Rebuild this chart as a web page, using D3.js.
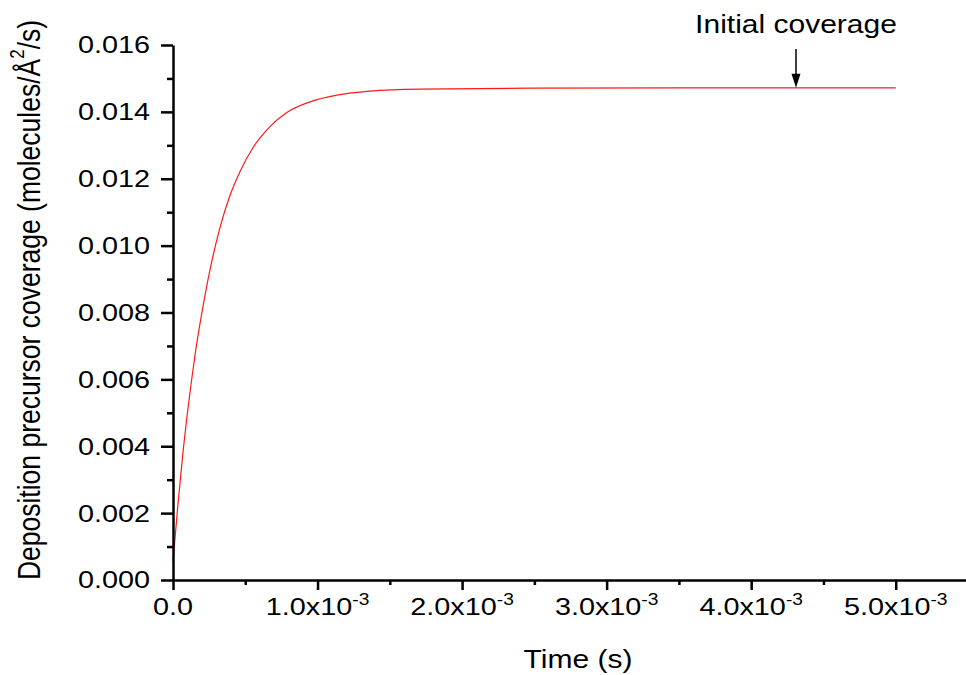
<!DOCTYPE html>
<html>
<head>
<meta charset="utf-8">
<script src="https://cdn.jsdelivr.net/npm/d3@7"></script>
<style>
  html, body { margin: 0; padding: 0; background: #fff; }
  svg { display: block; }
  text { font-family: "Liberation Sans", Arial, sans-serif; fill: #000; }
</style>
</head>
<body>
<svg id="chart" width="966" height="675"></svg>
<script>
// ---- data ----
const timeSeconds = [0, 0.000035, 0.000071, 0.000129, 0.000152, 0.000210, 0.000268, 0.000325, 0.000394, 0.000464,
                     0.000556, 0.000671, 0.000787, 0.000948, 0.001133, 0.001363, 0.001709, 0.0025, 0.0035, 0.0045, 0.0050];
const coverage    = [0.00055, 0.00230, 0.00390, 0.00599, 0.00672, 0.00824, 0.00952, 0.01054, 0.01150, 0.01222,
                     0.01295, 0.01356, 0.01398, 0.01430, 0.01450, 0.01462, 0.01468, 0.01471, 0.01472, 0.01472, 0.01472];

const yTickValues = [0, 0.002, 0.004, 0.006, 0.008, 0.010, 0.012, 0.014, 0.016];
const yTickLabels = ["0.000", "0.002", "0.004", "0.006", "0.008", "0.010", "0.012", "0.014", "0.016"];
const yMinorValues = [0.001, 0.003, 0.005, 0.007, 0.009, 0.011, 0.013, 0.015];

const xTickValues = [0, 0.001, 0.002, 0.003, 0.004, 0.005];
const xTickMantissa = ["0.0", "1.0x10", "2.0x10", "3.0x10", "4.0x10", "5.0x10"];
const xTickExponent = ["", "-3", "-3", "-3", "-3", "-3"];
const xMinorValues = [0.0005, 0.0015, 0.0025, 0.0035, 0.0045];

const xDomain = [0, 0.0055];
const yDomain = [0, 0.016];

const annotationText = "Initial coverage";
const annotationTime = 0.00431;
const xTitle = "Time (s)";

// ---- layout ----
const svg = d3.select("#chart");
const x = d3.scaleLinear().domain(xDomain).range([173, 968]);
const y = d3.scaleLinear().domain(yDomain).range([580, 45]);
const SX = 1.2; // horizontal stretch of the reference's text

// curve
const line = d3.line()
  .x((d, i) => x(timeSeconds[i]))
  .y((d, i) => y(coverage[i]))
  .curve(d3.curveMonotoneX);
svg.append("path")
  .datum(coverage)
  .attr("d", line)
  .attr("fill", "none")
  .attr("stroke", "#ff1a1a")
  .attr("stroke-width", 1.2);

// axes
const axisStyle = g => {
  g.selectAll("path.domain").attr("stroke", "#000").attr("stroke-width", 2.5);
  g.selectAll(".tick line").attr("stroke", "#000").attr("stroke-width", 2.5);
};

svg.append("g")
  .attr("transform", `translate(173,0)`)
  .call(d3.axisLeft(y).tickValues(yTickValues).tickSize(12).tickSizeOuter(0).tickFormat(""))
  .call(axisStyle);
svg.append("g")
  .attr("transform", `translate(173,0)`)
  .call(d3.axisLeft(y).tickValues(yMinorValues).tickSize(6).tickSizeOuter(0).tickFormat(""))
  .call(g => g.select("path.domain").remove())
  .call(axisStyle);

svg.append("g")
  .attr("transform", `translate(0,580)`)
  .call(d3.axisBottom(x).tickValues(xTickValues).tickSize(10).tickSizeOuter(0).tickFormat(""))
  .call(axisStyle);
svg.append("g")
  .attr("transform", `translate(0,580)`)
  .call(d3.axisBottom(x).tickValues(xMinorValues).tickSize(5).tickSizeOuter(0).tickFormat(""))
  .call(g => g.select("path.domain").remove())
  .call(axisStyle);

// y tick labels
svg.append("g").selectAll("text")
  .data(yTickValues)
  .join("text")
  .attr("transform", d => `translate(150,${y(d)}) scale(${SX},1)`)
  .attr("text-anchor", "end")
  .attr("dy", "0.35em")
  .attr("font-size", 24)
  .text((d, i) => yTickLabels[i]);

// x tick labels
const xl = svg.append("g").selectAll("text")
  .data(xTickValues)
  .join("text")
  .attr("transform", d => `translate(${x(d)},615) scale(${SX},1)`)
  .attr("text-anchor", "middle")
  .attr("font-size", 24);
xl.append("tspan").text((d, i) => xTickMantissa[i]);
xl.filter((d, i) => xTickExponent[i] !== "")
  .append("tspan")
  .attr("font-size", 16)
  .attr("dy", -10)
  .text(d => xTickExponent[xTickValues.indexOf(d)]);

// axis titles
svg.append("text")
  .attr("transform", `translate(578,668) scale(${SX},1)`)
  .attr("text-anchor", "middle")
  .attr("font-size", 25)
  .text(xTitle);

const yt = svg.append("text")
  .attr("transform", `translate(40,300) scale(${SX},1) rotate(-90)`)
  .attr("text-anchor", "middle")
  .attr("font-size", 26.5);
yt.append("tspan").text("Deposition precursor coverage (molecules/Å");
yt.append("tspan").attr("font-size", 17).attr("dy", -13).text("2");
yt.append("tspan").attr("dy", 13).text("/s)");

// annotation
const ax = x(annotationTime);
svg.append("text")
  .attr("transform", `translate(${ax},33) scale(${SX},1)`)
  .attr("text-anchor", "middle")
  .attr("font-size", 25)
  .text(annotationText);
const ay = y(coverage[coverage.length - 1]);
svg.append("line")
  .attr("x1", ax).attr("x2", ax)
  .attr("y1", 49).attr("y2", ay - 12)
  .attr("stroke", "#000").attr("stroke-width", 1.5);
svg.append("path")
  .attr("d", `M${ax - 4.5},${ay - 14} L${ax + 4.5},${ay - 14} L${ax},${ay} Z`)
  .attr("fill", "#000");
</script>
</body>
</html>
